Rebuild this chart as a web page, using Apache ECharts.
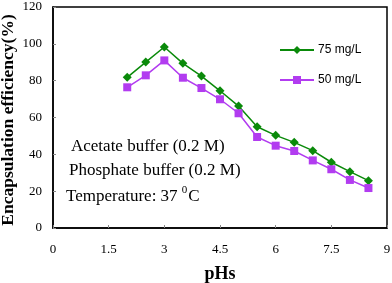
<!DOCTYPE html>
<html><head><meta charset="utf-8">
<script src="https://cdn.jsdelivr.net/npm/echarts@6/dist/echarts.min.js"></script>
<style>html,body{margin:0;padding:0;background:#fff}#c{width:392px;height:283px}</style>
</head><body><div id="c"></div>
<script>
const phs = [2, 2.5, 3, 3.5, 4, 4.5, 5, 5.5, 6, 6.5, 7, 7.5, 8, 8.5];
const eff75 = [81.8, 90.1, 98.3, 89.4, 82.5, 74.5, 66.2, 55.0, 50.3, 46.5, 42.0, 35.7, 30.6, 25.7];
const eff50 = [76.4, 82.9, 91.0, 81.6, 76.0, 69.9, 62.3, 49.4, 44.7, 41.8, 36.7, 31.9, 26.1, 21.7];
const seriesNames = ['75 mg/L', '50 mg/L'];
const notes = ['Acetate buffer (0.2 M)', 'Phosphate buffer (0.2 M)'];
const serif = '"Liberation Serif", "Times New Roman", serif';
const chart = echarts.init(document.getElementById('c'));
chart.setOption({
  animation: false,
  grid: {left: 53, right: 5, top: 7, bottom: 55, show: true, borderColor: '#000', borderWidth: 1.5,
         outerBoundsMode: 'none', containLabel: false},
  legend: {
    orient: 'vertical', left: 274, top: 39, itemGap: 18, itemWidth: 34, itemHeight: 10,
    textStyle: {fontFamily: 'Arial, "Liberation Sans", sans-serif', fontSize: 12, color: '#000', padding: [0, 0, 0, -1]},
    data: seriesNames
  },
  xAxis: {
    type: 'value', min: 0, max: 9, interval: 1.5,
    name: 'pHs', nameLocation: 'middle', nameGap: 37, nameMoveOverlap: false,
    nameTextStyle: {fontFamily: serif, fontWeight: 'bold', fontSize: 18, color: '#000'},
    axisLine: {lineStyle: {color: '#000', width: 1.5}},
    axisTick: {inside: true, length: 3, lineStyle: {color: '#888'}},
    axisLabel: {fontFamily: serif, fontSize: 13, color: '#000', margin: 15},
    splitLine: {show: false}
  },
  yAxis: {
    type: 'value', min: 0, max: 120, interval: 20,
    name: 'Encapsulation efficiency(%)', nameLocation: 'middle', nameGap: 36, nameMoveOverlap: false,
    nameTextStyle: {fontFamily: serif, fontWeight: 'bold', fontSize: 17.5, color: '#000', padding: [0, 5, 0, 0]},
    axisLine: {show: true, lineStyle: {color: '#000', width: 1.5}},
    axisTick: {show: true, inside: true, length: 3, lineStyle: {color: '#888'}},
    axisLabel: {fontFamily: serif, fontSize: 13, color: '#000', margin: 11},
    splitLine: {show: false}
  },
  series: [
    {name: seriesNames[0], type: 'line', data: phs.map((x, i) => [x, eff75[i]]),
     symbol: 'diamond', symbolSize: 9, color: '#0a8a0a', lineStyle: {width: 1.5, color: '#0a8a0a'}},
    {name: seriesNames[1], type: 'line', data: phs.map((x, i) => [x, eff50[i]]),
     symbol: 'rect', symbolSize: 8, color: '#b23cf0', lineStyle: {width: 1.5, color: '#b23cf0'}}
  ],
  graphic: [
    {type: 'text', left: 71, top: 138, style: {text: notes[0], font: '17px ' + serif, fill: '#000'}},
    {type: 'text', left: 69, top: 162, style: {text: notes[1], font: '17px ' + serif, fill: '#000'}},
    {type: 'text', left: 66, top: 185, style: {
      text: '{n|Temperature: 37 }{s|0}{n|C}',
      rich: {n: {font: '17px ' + serif, fill: '#000', verticalAlign: 'bottom'},
             s: {font: '11px ' + serif, fill: '#000', verticalAlign: 'top', padding: [0, 1, 9, 0]}}
    }}
  ]
});
</script></body></html>
